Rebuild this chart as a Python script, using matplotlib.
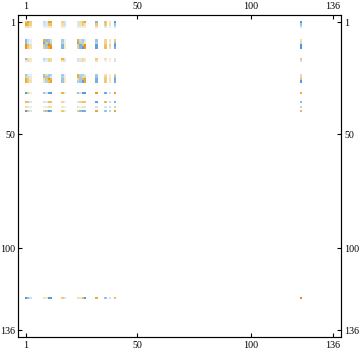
import numpy as np
import matplotlib.pyplot as plt
from matplotlib.colors import LinearSegmentedColormap

plt.rcParams["font.family"] = ["Liberation Serif"]

TICKS = [1, 50, 100, 136]

# row/column numbers that have anything in them
IDX = [1, 2, 3, 9, 10, 11, 12, 17, 18, 24, 25, 26, 27, 32, 36, 38, 40, 122]

R1 = [.35, .65, .30, -.15, -.08, .65, .65, .25, -.12, -.08, .20, .40, .60, -.40, .35, .12, -.65, -.70]
R2 = [.60, .45, .25, -.12, -.08, .35, .40, .18, -.12, -.08, .15, .30, .12, .35, .30, .15, -.30, -.30]
R3 = [.15, .18, .10, -.06, -.06, .10, .10, .10, -.06, -.06, -.06, .08, .08, .15, -.08, -.05, -.12, -.12]
R9 = [-.35, -.12, -.06, .55, -.35, -.30, -.15, -.25, -.06, .55, -.15, -.25, -.08, -.30, .22, .12, .30, .18]
R10 = [-.35, -.10, -.05, -.50, .35, -.35, .30, -.20, -.05, -.45, .30, -.20, .10, -.20, .25, .08, -.35, -.15]
R11 = [.75, .40, .15, .35, -.30, .95, .60, -.40, .10, .25, -.45, .40, .80, -.55, .35, .25, -.70, -.75]
R12 = [.75, .30, .15, .30, -.25, .55, .85, -.40, .10, .25, -.40, -.60, .70, -.55, .40, .15, -.45, -.75]
R17 = [-.35, .18, .12, -.18, -.08, .25, .20, .50, .12, -.12, .10, .22, .10, .30, .15, .10, .12, .30]
R18 = [.12, .18, .10, -.08, -.06, .22, .18, .15, -.08, -.08, -.08, .18, .10, .15, .05, .05, -.12, -.12]
R24 = [-.30, -.08, -.06, -.30, .20, -.25, -.20, -.25, -.06, .55, -.20, -.20, -.08, -.25, .15, .08, .30, .20]
R25 = [.30, -.12, -.08, -.30, -.25, -.25, -.10, -.20, -.06, .55, -.25, .20, -.15, -.30, .25, .08, -.35, -.15]
R26 = [.55, .30, .12, .20, .35, .70, .50, -.30, .10, .20, -.25, .50, .65, -.45, .30, .15, -.50, .40]
R27 = [.55, .30, .15, .15, -.20, .40, .65, -.30, .10, -.20, -.25, -.55, .60, -.45, .30, .12, -.45, -.65]
R32 = [-.60, .30, .08, -.30, -.10, -.55, -.65, .50, .10, -.30, -.10, -.60, -.60, .70, -.50, -.15, .65, .55]
R36 = [.45, .35, -.10, -.10, -.08, .40, .40, .22, -.05, -.08, .25, .35, .35, -.55, .45, -.15, -.40, -.35]
R38 = [.18, .12, -.06, .08, .08, .20, .18, .10, -.05, -.08, .06, .15, .12, -.12, -.10, -.12, -.18, -.18]
R40 = [-.65, .35, -.10, .30, -.30, -.70, -.45, .35, .10, .30, -.35, -.50, -.45, .60, -.30, -.18, .65, .50]
R122 = [-.65, -.35, -.12, .15, .10, -.60, -.65, .30, -.10, .15, .12, .40, -.65, .55, -.30, -.12, .40, .85]

rows = [R1, R2, R3, R9, R10, R11, R12, R17, R18, R24, R25, R26, R27, R32, R36, R38, R40, R122]

cmap = LinearSegmentedColormap.from_list(
    "blue_orange",
    [(0, "#3d8bd6"), (.2, "#5b9bd5"), (.38, "#a6cce4"), (.46, "#dbe9f1"), (.5, "#ffffff"),
     (.54, "#f6ecd0"), (.65, "#eecb7a"), (.82, "#e6a52c"), (1, "#ff6a00")],
)

m = np.zeros((136, 136))
for i, r in zip(IDX, rows):
    for j, v in zip(IDX, r):
        m[i - 1, j - 1] = v
m = np.ma.masked_equal(m, 0)

fig = plt.figure(figsize=(3.6, 3.53), dpi=100)
ax = fig.add_axes([18.3 / 360, 1 - 337.3 / 353, 323 / 360, 322 / 353])
edges = np.arange(0.5, 137.5)
ax.pcolormesh(edges, edges, m, cmap=cmap, vmin=-1, vmax=1, edgecolors="none", antialiased=False)
ax.set_xlim(-2.39, 139.65)
ax.set_ylim(139.07, -2.07)

ax.set_xticks(TICKS)
ax.set_yticks(TICKS)
ax.set_xticklabels([str(t) for t in TICKS])
ax.set_yticklabels([str(t) for t in TICKS])
ax.tick_params(direction="in", length=3.2, width=0.8, labelsize=7.2, pad=2,
               top=True, right=True, labeltop=True, labelright=True)
ax.tick_params(axis="x", pad=3)
for s in ax.spines.values():
    s.set_linewidth(0.85)

fig.savefig("out.png", dpi=100)
